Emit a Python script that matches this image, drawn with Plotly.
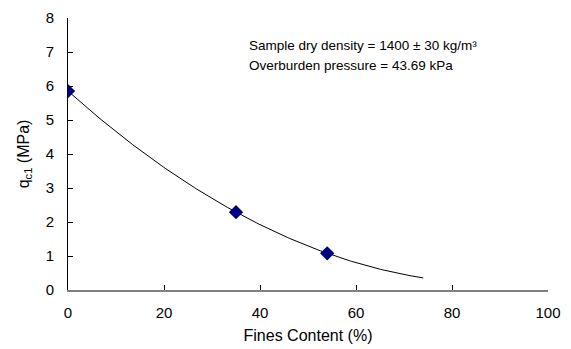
import numpy as np
import plotly.graph_objects as go

fines = [0, 35, 54]
qc1 = [5.85, 2.29, 1.08]
x_ticks = [0, 20, 40, 60, 80, 100]
y_ticks = [0, 1, 2, 3, 4, 5, 6, 7, 8]
fit_end = 74

# 2nd-order polynomial trendline through the data (as in the original chart)
coef = np.polyfit(fines, qc1, 2)
xf = np.linspace(0, fit_end, 150)
yf = np.polyval(coef, xf)

fig = go.Figure()
fig.add_trace(go.Scatter(x=xf, y=yf, mode="lines",
                         line=dict(color="black", width=1), hoverinfo="skip"))
fig.add_trace(go.Scatter(x=fines, y=qc1, mode="markers",
                         marker=dict(symbol="diamond", color="#000080", size=11,
                                     line=dict(width=0))))

fig.add_annotation(x=0.373, y=0.90, xref="paper", yref="paper", xanchor="left", yanchor="middle",
                   text="Sample dry density = 1400 ± 30 kg/m³", showarrow=False,
                   font=dict(size=13.5, color="black"))
fig.add_annotation(x=0.373, y=0.824, xref="paper", yref="paper", xanchor="left", yanchor="middle",
                   text="Overburden pressure = 43.69 kPa", showarrow=False,
                   font=dict(size=13.5, color="black"))

fig.update_layout(
    width=571, height=349,
    margin=dict(l=68, r=23, t=18, b=59),
    paper_bgcolor="white", plot_bgcolor="white",
    showlegend=False,
    font=dict(family="Liberation Sans, Arial, sans-serif", color="black", size=15),
)
fig.update_xaxes(range=[0, 100], tickvals=x_ticks, showgrid=False, zeroline=False,
                 showline=True, linecolor="#808080", linewidth=2,
                 ticks="inside", ticklen=5, tickcolor="black",
                 ticklabelstandoff=8, automargin=False,
                 title=dict(text="Fines Content (%)", font=dict(size=16), standoff=10),
                 tickfont=dict(size=15))
fig.update_yaxes(range=[0, 8], tickvals=y_ticks, showgrid=False, zeroline=False,
                 showline=True, linecolor="black", linewidth=1,
                 ticks="inside", ticklen=5, tickcolor="black",
                 ticklabelstandoff=10, automargin=False,
                 title=dict(text="q<sub>c1</sub> (MPa)", font=dict(size=16), standoff=12),
                 tickfont=dict(size=15))

fig.write_html("out.html")
